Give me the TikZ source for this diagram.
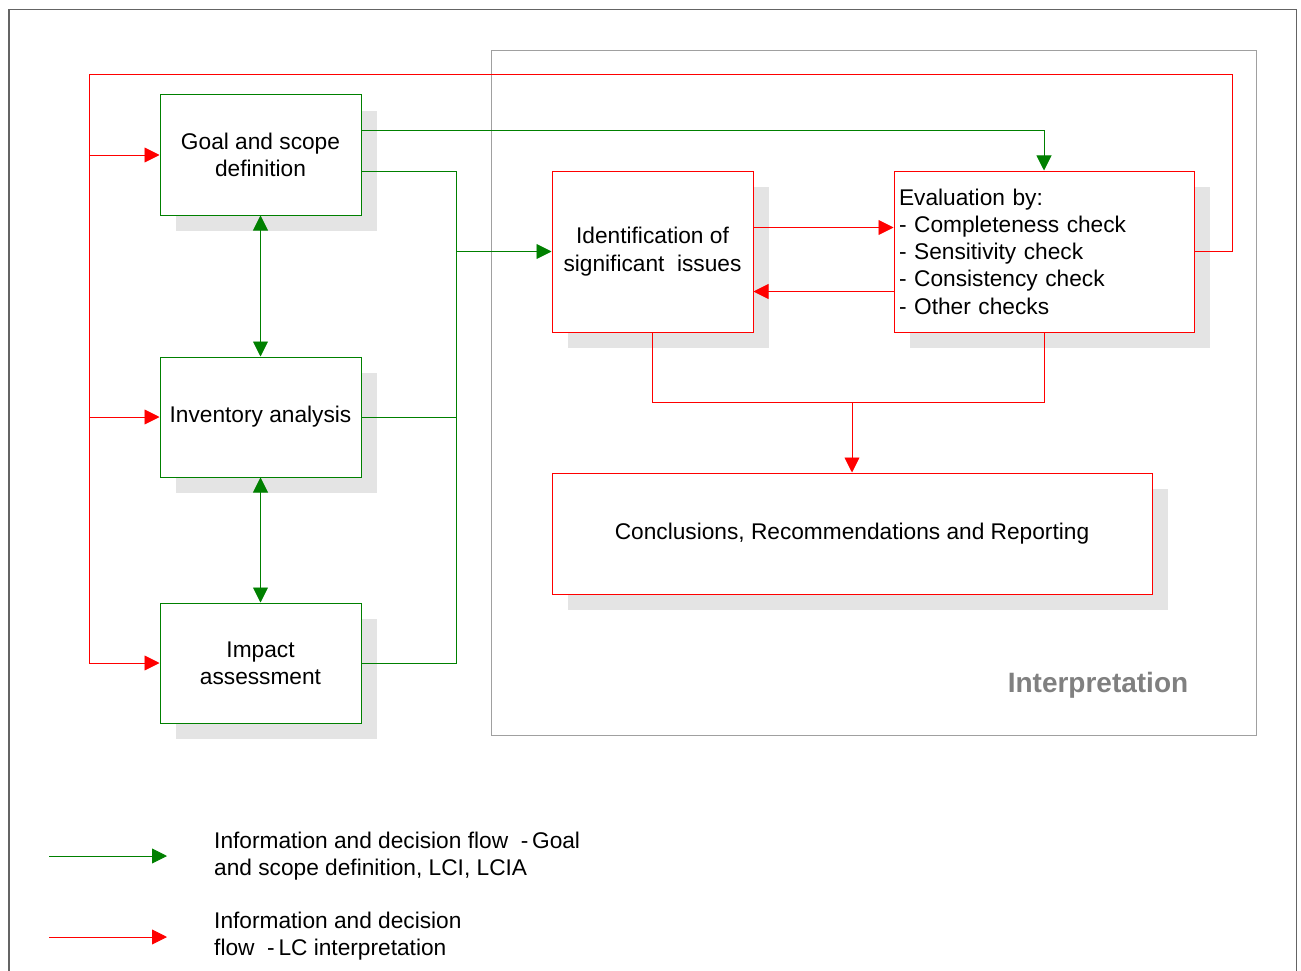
\documentclass[tikz,border=0pt]{standalone}
\usepackage{fontspec}
\setmainfont{Liberation Sans}
\usetikzlibrary{arrows.meta,shadows}
\definecolor{lcared}{RGB}{255,0,0}
\definecolor{lcagreen}{RGB}{0,128,0}
\definecolor{shadowgray}{RGB}{228,228,228}
\definecolor{framegray}{RGB}{100,100,100}
\definecolor{interpgray}{RGB}{160,160,160}
\definecolor{labelgray}{RGB}{128,128,128}
\tikzset{
  txt/.style={font=\fontsize{22.7}{27.3}\selectfont},
  box/.style={txt, draw, fill=white, line width=1pt, align=center, inner sep=4pt,
    drop shadow={shadow xshift=16pt, shadow yshift=-16pt, fill=shadowgray, opacity=1}},
  gbox/.style={box, draw=lcagreen},
  rbox/.style={box, draw=lcared},
  tip/.style={-{Triangle[length=15pt,width=15pt]}},
  gline/.style={draw=lcagreen, line width=0.9pt},
  rline/.style={draw=lcared, line width=0.9pt},
}
\begin{document}
\begin{tikzpicture}[x=1pt,y=-1pt]
\useasboundingbox (0,0) rectangle (1301,971);
% outer frame
\draw[framegray, line width=1.5pt] (9,980) -- (9,9.5) -- (1296.5,9.5) -- (1296.5,980);
% interpretation frame
\draw[interpgray, line width=1pt] (491.5,50.5) rectangle (1256.5,735.5);
\node[font=\fontsize{28}{32}\selectfont\bfseries, text=labelgray] (interp) at (1098,685) {Interpretation};

% left column boxes
\node[gbox, minimum width=201pt, minimum height=120pt] (goal) at (260.5,155) {Goal and scope\\definition};
\node[gbox, minimum width=201pt, minimum height=120pt] (inv) at (260.5,417) {Inventory analysis};
\node[gbox, minimum width=201pt, minimum height=120pt] (imp) at (260.5,663) {Impact\\assessment};

% interpretation boxes
\node[rbox, minimum width=201pt, minimum height=161pt] (id) at (652.5,251.5) {Identification of\\significant\ \ issues};
\node[rbox, minimum width=300pt, minimum height=161pt, align=left, text width=290pt, inner sep=0pt] (ev) at (1044,251.5)
  {Evaluation by:\\- Completeness check\\- Sensitivity check\\- Consistency check\\- Other checks};
\node[rbox, minimum width=600pt, minimum height=121pt] (con) at (852,533.5) {Conclusions, Recommendations and Reporting};

% coordinates
\coordinate (tl) at (89,74);
\coordinate (tr) at (1232,74);
\coordinate (bus) at (456.5,663);
\coordinate (jn) at (852,402.5);

% red loop
\draw[rline] (ev.east) -| (tr) -- (tl) -- (tl |- imp.west);
\draw[rline, tip] (tl |- goal.west) -- (goal.west);
\draw[rline, tip] (tl |- inv.west) -- (inv.west);
\draw[rline, tip] (tl |- imp.west) -- (imp.west);

% green flows
\draw[gline, tip] ([yshift=25pt]goal.east) -| (ev.north);
\draw[gline] ([yshift=-16pt]goal.east) -| (bus) -- (imp.east);
\draw[gline] (inv.east) -- (inv.east -| bus);
\draw[gline, tip] (bus |- id.west) -- (id.west);
\draw[gline, {Triangle[length=15pt,width=15pt]}-{Triangle[length=15pt,width=15pt]}] (goal.south) -- (inv.north);
\draw[gline, {Triangle[length=15pt,width=15pt]}-{Triangle[length=15pt,width=15pt]}] (inv.south) -- (imp.north);

% red flows inside interpretation
\draw[rline, tip] ([yshift=24pt]id.east) -- ([yshift=24pt]id.east -| ev.west);
\draw[rline, tip] ([yshift=-40pt]id.east -| ev.west) -- ([yshift=-40pt]id.east);
\draw[rline] (id.south) |- (jn) -| (ev.south);
\draw[rline, tip] (jn) -- (con.north);

% legend
\coordinate (lg1s) at (49,856);
\coordinate (lg1e) at (167,856);
\coordinate (lg2s) at (49,937);
\coordinate (lg2e) at (167,937);
\draw[gline, tip] (lg1s) -- (lg1e);
\draw[rline, tip] (lg2s) -- (lg2e);
\node[txt, anchor=west, align=left, inner sep=0pt] (leg1) at (214,856) {Information and decision flow\ \ -\,Goal\\and scope definition, LCI, LCIA};
\node[txt, anchor=west, align=left, inner sep=0pt] (leg2) at (214,936) {Information and decision\\flow\ \ -\,LC interpretation};
\end{tikzpicture}
\end{document}
